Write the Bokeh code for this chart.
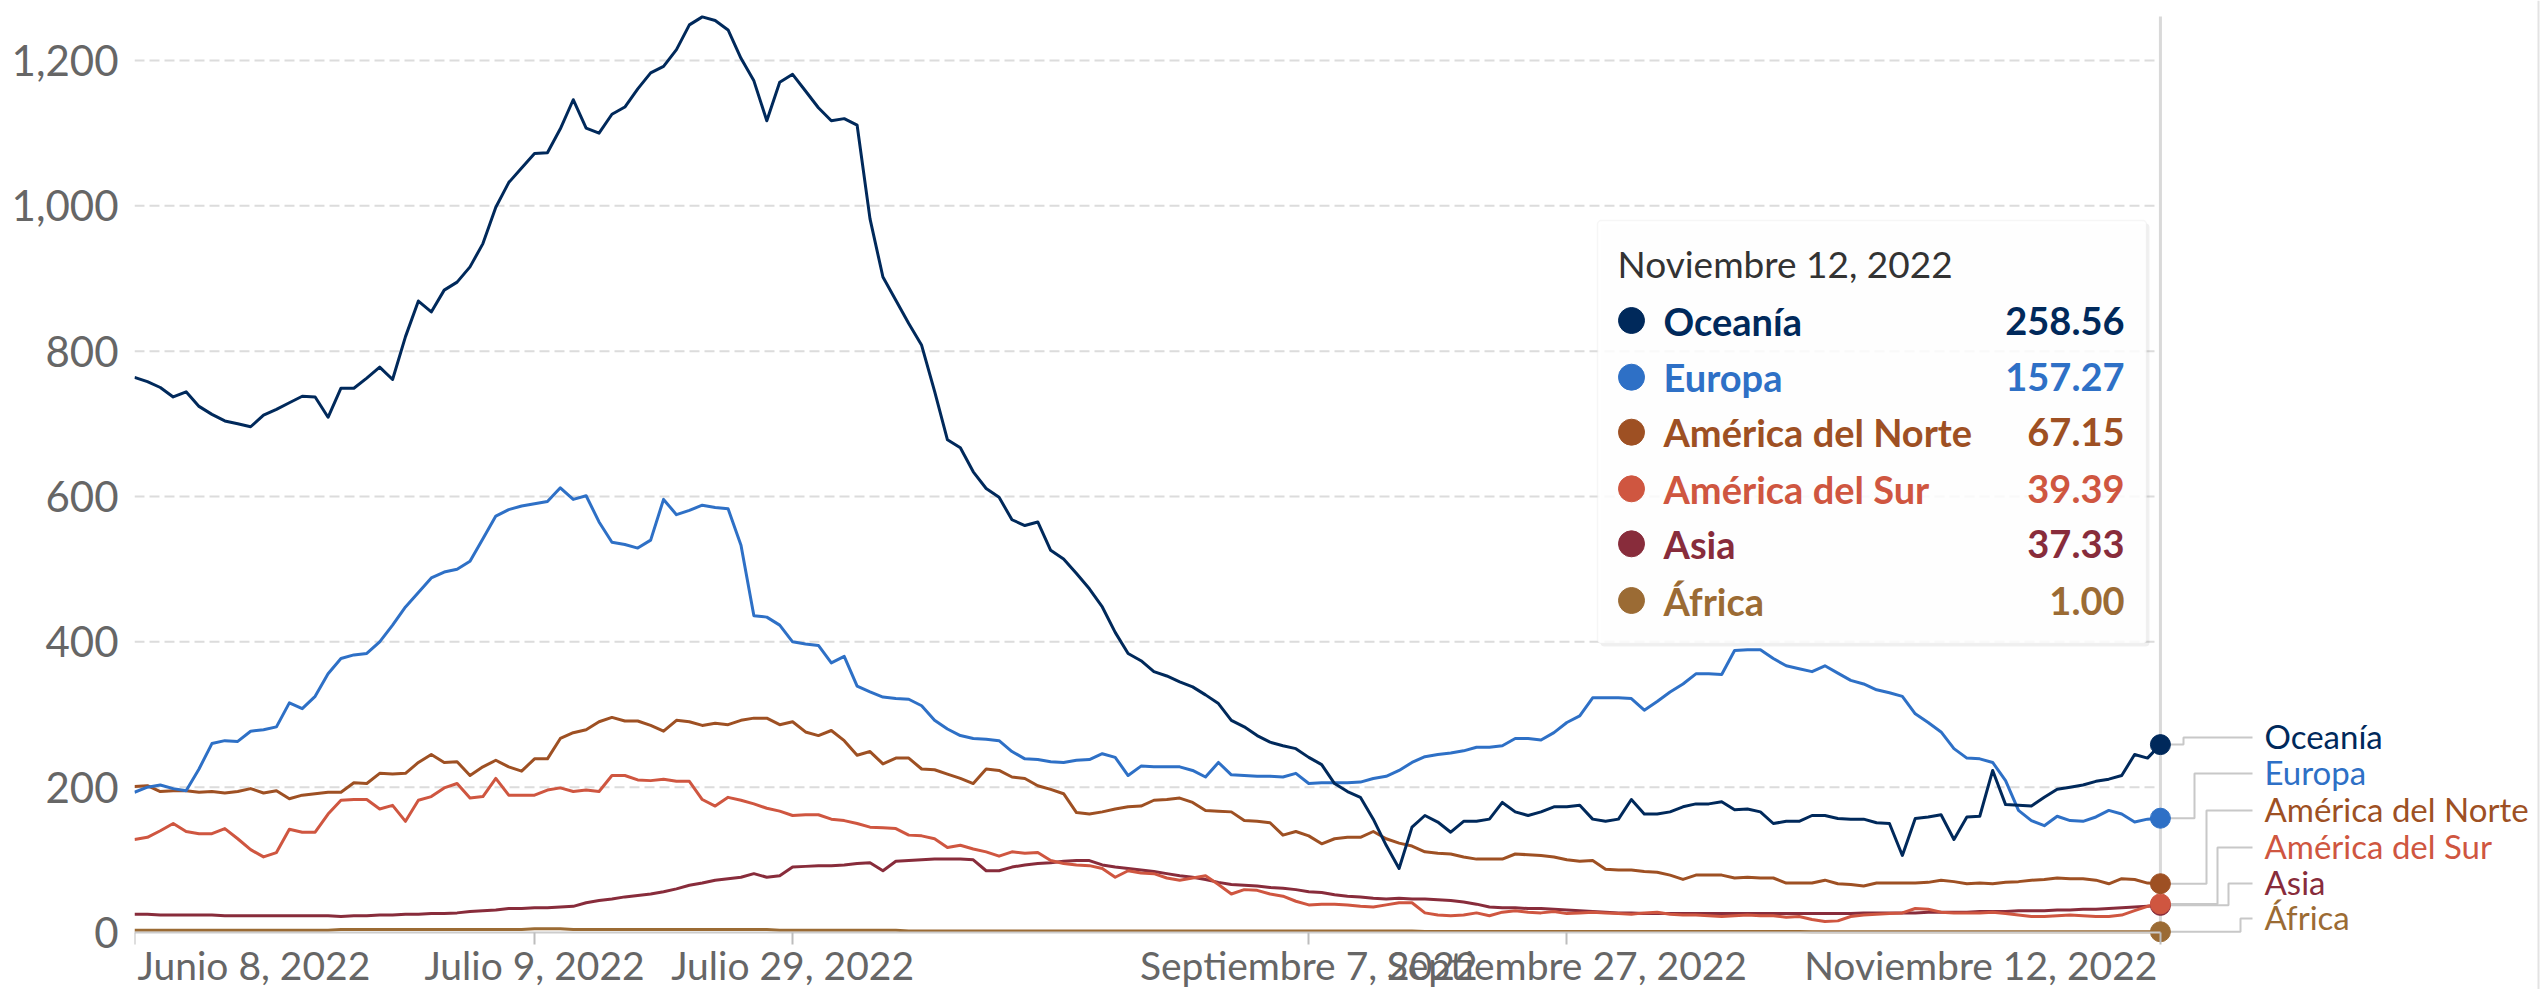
from datetime import datetime, timedelta
from bokeh.plotting import figure
from bokeh.models import (Range1d, FixedTicker, NumeralTickFormatter, Label,
                          BoxAnnotation, Span, ColumnDataSource)
from bokeh.embed import file_html
from bokeh.resources import INLINE

# ---------------- data ----------------
START = datetime(2022, 6, 8)
N_DAYS = 158
dates = [START + timedelta(days=i) for i in range(N_DAYS)]

series_names = ["Oceanía", "Europa", "América del Norte", "América del Sur", "Asia", "África"]
series_colors = ["#00295b", "#2e70c6", "#9e5023", "#cf5640", "#882c3b", "#9b6b34"]

oceania = [
    764, 758, 750, 737, 744, 724, 713, 704, 700, 696,
    712, 720, 729, 738, 737, 709, 749, 749, 763, 778,
    761, 820, 869, 854, 884, 895, 916, 948, 998, 1032,
    1052, 1072, 1073, 1106, 1146, 1107, 1100, 1126, 1136, 1161,
    1183, 1192, 1215, 1249, 1260, 1255, 1242, 1203, 1172, 1117,
    1170, 1181, 1158, 1135, 1117, 1120, 1111, 982, 902, 870,
    838, 808, 745, 678, 667, 634, 611, 599, 568, 560,
    565, 526, 514, 494, 473, 448, 413, 384, 374, 359,
    353, 345, 338, 327, 315, 292, 283, 271, 262, 257,
    253, 241, 231, 205, 194, 186, 156, 120, 88, 145,
    161, 152, 138, 153, 153, 156, 179, 166, 161, 166,
    173, 173, 175, 156, 153, 156, 183, 163, 163, 166,
    173, 177, 177, 180, 169, 170, 166, 150, 153, 153,
    161, 161, 157, 156, 156, 151, 150, 106, 157, 159,
    162, 128, 159, 160, 223, 176, 175, 174, 186, 197,
    200, 203, 208, 211, 216, 245, 240, 258.56,
]
europa = [
    193, 200, 203, 198, 195, 225, 260, 264, 263, 277,
    279, 283, 316, 308, 325, 356, 377, 382, 384, 400,
    423, 448, 468, 488, 496, 500, 511, 542, 573, 582,
    587, 590, 593, 612, 596, 601, 565, 537, 534, 529,
    540, 596, 575, 581, 588, 585, 583, 533, 436, 434,
    423, 400, 397, 395, 371, 380, 339, 331, 324, 322,
    321, 312, 292, 280, 271, 267, 266, 264, 249, 239,
    238, 235, 234, 237, 238, 246, 241, 216, 229, 228,
    228, 228, 223, 214, 234, 217, 216, 215, 215, 214,
    219, 205, 206, 206, 206, 207, 212, 215, 223, 234,
    242, 245, 247, 250, 255, 255, 257, 267, 267, 265,
    275, 289, 298, 323, 323, 323, 322, 306, 318, 331,
    342, 356, 356, 355, 388, 389, 389, 377, 367, 363,
    359, 367, 357, 347, 342, 334, 330, 325, 301, 289,
    276, 253, 240, 239, 234, 209, 168, 154, 147, 160,
    154, 153, 159, 168, 163, 152, 156, 157.27,
]
america_norte = [
    201, 202, 194, 195, 195, 193, 194, 192, 194, 198,
    192, 195, 184, 189, 191, 193, 193, 206, 205, 219,
    218, 219, 234, 245, 234, 235, 216, 228, 237, 228,
    222, 239, 239, 267, 275, 279, 290, 296, 291, 291,
    285, 277, 292, 290, 285, 288, 286, 292, 295, 295,
    286, 290, 276, 271, 278, 264, 244, 249, 232, 240,
    240, 225, 224, 218, 212, 205, 225, 223, 214, 212,
    202, 197, 191, 165, 163, 166, 170, 173, 174, 182,
    183, 185, 179, 168, 167, 166, 154, 153, 151, 134,
    139, 133, 122, 129, 131, 131, 139, 129, 123, 119,
    111, 109, 108, 104, 101, 101, 101, 108, 107, 106,
    104, 100, 98, 99, 87, 86, 86, 84, 83, 79,
    73, 79, 79, 79, 75, 76, 75, 75, 68, 68,
    68, 72, 67, 66, 64, 68, 68, 68, 68, 69,
    72, 70, 67, 68, 67, 69, 70, 72, 73, 75,
    74, 74, 72, 67, 74, 73, 68, 67.15,
]
america_sur = [
    128, 131, 140, 150, 139, 136, 136, 143, 129, 114,
    104, 110, 142, 138, 138, 163, 182, 183, 183, 170,
    175, 153, 182, 187, 199, 205, 185, 187, 212, 189,
    189, 189, 196, 199, 194, 196, 194, 216, 216, 210,
    209, 211, 208, 208, 183, 174, 186, 182, 177, 171,
    167, 161, 162, 162, 156, 154, 150, 145, 144, 143,
    134, 133, 129, 117, 120, 115, 111, 105, 111, 109,
    110, 99, 95, 93, 92, 88, 76, 85, 82, 81,
    75, 72, 75, 78, 66, 53, 59, 58, 53, 50,
    43, 38, 39, 39, 38, 36, 35, 38, 41, 41,
    27, 24, 23, 24, 27, 23, 28, 30, 28, 27,
    29, 26, 27, 28, 27, 26, 25, 27, 28, 25,
    24, 24, 23, 22, 23, 24, 23, 23, 21, 22,
    18, 15, 16, 22, 24, 25, 26, 27, 33, 32,
    28, 27, 27, 27, 28, 26, 24, 22, 22, 23,
    24, 23, 22, 22, 24, 30, 36, 39.39,
]
asia = [
    25, 25, 24, 24, 24, 24, 24, 23, 23, 23,
    23, 23, 23, 23, 23, 23, 22, 23, 23, 24,
    24, 25, 25, 26, 26, 27, 29, 30, 31, 33,
    33, 34, 34, 35, 36, 41, 44, 46, 49, 51,
    53, 56, 60, 65, 68, 72, 74, 76, 81, 76,
    78, 90, 91, 92, 92, 93, 95, 96, 85, 98,
    99, 100, 101, 101, 101, 100, 85, 85, 90, 93,
    95, 96, 98, 99, 99, 93, 90, 88, 86, 84,
    81, 78, 76, 73, 69, 66, 65, 64, 62, 61,
    59, 56, 55, 52, 50, 49, 47, 46, 47, 46,
    46, 45, 44, 42, 39, 35, 34, 34, 33, 33,
    32, 31, 30, 29, 28, 27, 27, 26, 26, 26,
    26, 26, 26, 26, 26, 26, 26, 26, 26, 26,
    26, 26, 26, 26, 27, 27, 27, 27, 27, 28,
    28, 28, 28, 29, 29, 29, 30, 30, 30, 31,
    31, 32, 32, 33, 34, 35, 36, 37.33,
]
africa = [
    3, 3, 3, 3, 3, 3, 3, 3, 3, 3,
    3, 3, 3, 3, 3, 3, 4, 4, 4, 4,
    4, 4, 4, 4, 4, 4, 4, 4, 4, 4,
    4, 5, 5, 5, 4, 4, 4, 4, 4, 4,
    4, 4, 4, 4, 4, 4, 4, 4, 4, 4,
    3, 3, 3, 3, 3, 3, 3, 3, 3, 3,
    2, 2, 2, 2, 2, 2, 2, 2, 2, 2,
    2, 2, 2, 2, 2, 2, 2, 2, 2, 2,
    2, 2, 2, 2, 2, 2, 2, 2, 2, 2,
    2, 2, 2, 2, 2, 2, 2, 2, 2, 2,
    1.5, 1.5, 1.5, 1.5, 1.5, 1.5, 1.5, 1.5, 1.5, 1.5,
    1.5, 1.5, 1.5, 1.5, 1.5, 1.5, 1.5, 1.5, 1.5, 1.5,
    1.5, 1.5, 1.5, 1.5, 1.5, 1.5, 1.5, 1.5, 1.5, 1.5,
    1.2, 1.2, 1.2, 1.2, 1.2, 1.2, 1.2, 1.2, 1.2, 1.2,
    1.2, 1.2, 1.2, 1.2, 1.2, 1.2, 1.2, 1.2, 1.2, 1.2,
    1.1, 1.1, 1.1, 1.0, 1.0, 1.0, 1.0, 1.0,
]
series_values = [oceania, europa, america_norte, america_sur, asia, africa]

tick_dates = [datetime(2022, 6, 8), datetime(2022, 7, 9), datetime(2022, 7, 29),
              datetime(2022, 9, 7), datetime(2022, 9, 27), datetime(2022, 11, 12)]
tick_labels = ["Junio 8, 2022", "Julio 9, 2022", "Julio 29, 2022",
               "Septiembre 7, 2022", "Septiembre 27, 2022", "Noviembre 12, 2022"]
y_ticks = [0, 200, 400, 600, 800, 1000, 1200]
tooltip_title = "Noviembre 12, 2022"

# ---------------- layout geometry (canvas pixels) ----------------
W, H = 2540, 989
FL = 134                    # frame left (y axis panel on the left)
PX_PER_DAY = 12.904
ZERO_Y = 932                # canvas y of value 0
PX_PER_UNIT = 872.0 / 1200.0


def ms(d):
    return (d - datetime(1970, 1, 1)).total_seconds() * 1000.0


X0 = ms(START)
X1 = X0 + (W - FL) / PX_PER_DAY * 86400000.0
Y1 = ZERO_Y / PX_PER_UNIT
Y0 = (ZERO_Y - H) / PX_PER_UNIT


def dx(X):  # canvas x -> data x
    return X0 + (X - FL) / PX_PER_DAY * 86400000.0


def dy(Y):  # canvas y -> data y
    return (ZERO_Y - Y) / PX_PER_UNIT


p = figure(width=W, height=H, x_axis_type="datetime",
           x_range=Range1d(X0, X1), y_range=Range1d(Y0, Y1),
           output_backend="svg", toolbar_location=None,
           min_border_left=FL, min_border_top=0, min_border_right=0, min_border_bottom=0)
p.outline_line_color = None
p.background_fill_color = "white"
p.border_fill_color = "white"

# y axis
p.yaxis.ticker = FixedTicker(ticks=y_ticks)
p.yaxis.formatter = NumeralTickFormatter(format="0,0")
p.yaxis.axis_line_color = None
p.yaxis.major_tick_line_color = None
p.yaxis.minor_tick_line_color = None
p.yaxis.major_tick_out = 0
p.yaxis.major_tick_in = 0
p.yaxis.major_label_standoff = 16
p.yaxis.major_label_text_font = "Lato"
p.yaxis.major_label_text_font_size = "42px"
p.yaxis.major_label_text_color = "#666666"

# x axis placed at value 0 inside the frame: line + ticks; labels drawn as text below
p.xaxis.fixed_location = 0
p.xaxis.ticker = FixedTicker(ticks=[ms(d) for d in tick_dates])
p.xaxis.major_label_text_color = None
p.xaxis.axis_line_color = "#cccccc"
p.xaxis.axis_line_width = 2
p.xaxis.major_tick_line_color = "#bdbdbd"
p.xaxis.major_tick_line_width = 2
p.xaxis.major_tick_out = 12
p.xaxis.major_tick_in = 0
p.xaxis.minor_tick_line_color = None
p.xaxis.bounds = (ms(tick_dates[0]), ms(tick_dates[-1]))

p.grid.visible = False
grid_src = ColumnDataSource(dict(y=y_ticks[1:]))
p.segment(x0=ms(tick_dates[0]), x1=dx(2157), y0="y", y1="y", source=grid_src,
          line_color="#dcdcdc", line_width=2, line_dash="10 5", level="underlay")

# crosshair at last date and right border
p.segment(x0=[ms(dates[-1])], x1=[ms(dates[-1])], y0=[dy(935)], y1=[dy(16)],
          line_color="#d9d9d9", line_width=3, level="underlay")
p.add_layout(Span(location=dx(2538), dimension="height", line_color="#e3e3e3", line_width=2))

# lines (first series drawn on top)
for name, vals, col in reversed(list(zip(series_names, series_values, series_colors))):
    src = ColumnDataSource(dict(x=dates, y=vals))
    p.line("x", "y", source=src, line_color=col, line_width=3, line_join="round")

# x tick labels
p.text(x=[ms(d) for d in tick_dates], y=[dy(964)] * len(tick_dates), text=tick_labels,
       x_offset=[3, 0, 0, 0, 0, -3],
       text_align=["left", "center", "center", "center", "center", "right"],
       text_baseline="middle", text_font={"value": "Lato"}, text_font_size="39px",
       text_color="#666666")

# right side labels with connectors
label_y = [737, 773, 810, 847, 883, 918]
elbow_x = [2183, 2194, 2206, 2217, 2228, 2240]
xs, ys = [], []
for vals, ly, ex in zip(series_values, label_y, elbow_x):
    xs.append([dx(2168), dx(ex), dx(ex), dx(2252)])
    ys.append([vals[-1], vals[-1], dy(ly), dy(ly)])
p.multi_line(xs, ys, line_color="#c8c8c8", line_width=2)
p.text(x=[dx(2264)] * len(series_names), y=[dy(v - 2) for v in label_y], text=series_names,
       text_color=series_colors, text_font={"value": "Lato"}, text_font_size="33px",
       text_baseline="middle", text_align="left")

# end dots
for name, vals, col in reversed(list(zip(series_names, series_values, series_colors))):
    p.scatter([dates[-1]], [vals[-1]], size=20, fill_color=col, line_color=col)

# tooltip box
TL, TR, TT, TBm = 1597, 2146, 220, 643
p.add_layout(BoxAnnotation(left=dx(TL + 3), right=dx(TR + 3), top=dy(TT + 3), bottom=dy(TBm + 3),
                           fill_color="black", fill_alpha=0.06, line_color=None, border_radius=4))
p.add_layout(BoxAnnotation(left=dx(TL), right=dx(TR), top=dy(TT), bottom=dy(TBm),
                           fill_color="white", fill_alpha=0.88,
                           line_color="#e2e2e2", line_width=1.5, border_radius=4))
p.add_layout(Label(x=dx(1617), y=dy(263), text=tooltip_title,
                   text_font="Lato", text_font_size="37px", text_color="#333333",
                   text_baseline="middle", text_align="left"))
row_y = [320, 376.7, 431.7, 488.3, 543.3, 600]
for name, vals, col, ry in zip(series_names, series_values, series_colors, row_y):
    p.add_layout(Label(x=dx(1663), y=dy(ry), text=name,
                       text_font="Lato", text_font_style="bold", text_font_size="38px",
                       text_color=col, text_baseline="middle", text_align="left"))
    p.add_layout(Label(x=dx(2124), y=dy(ry), text="%.2f" % vals[-1],
                       text_font="Lato", text_font_style="bold", text_font_size="38px",
                       text_color=col, text_baseline="middle", text_align="right"))
r = p.scatter([dx(1631)] * len(row_y), [dy(v) for v in row_y], size=26,
              fill_color=series_colors, line_color=series_colors)
r.level = "overlay"

open("out.html", "w").write(file_html(p, INLINE))
